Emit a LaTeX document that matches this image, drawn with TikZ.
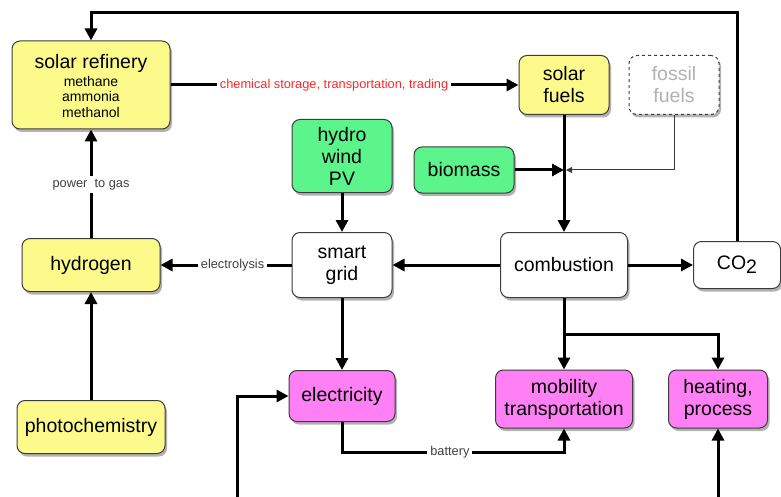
\documentclass[tikz,border=0pt]{standalone}
\usepackage{fontspec}
\setmainfont{Liberation Sans}
\usetikzlibrary{arrows.meta,shadows,calc}
\definecolor{yel}{RGB}{253,250,140}
\definecolor{grn}{RGB}{92,245,140}
\definecolor{mag}{RGB}{255,128,245}
\definecolor{bord}{RGB}{60,60,60}
\definecolor{redtxt}{RGB}{255,40,40}
\newcommand{\smallfnt}{\fontsize{14}{15.5}\selectfont}
\tikzset{
  box/.style={draw=bord, line width=1pt, rounded corners=8pt, align=center,
    font=\fontsize{19.5}{22}\selectfont, inner sep=0pt,
    drop shadow={shadow xshift=2pt, shadow yshift=-3pt, opacity=0.3, fill=black}},
  conn/.style={line width=3pt, -{Triangle[length=12pt,width=12pt]}},
  lab/.style={font=\fontsize{12.8}{14}\selectfont, fill=white, inner sep=3pt, text=black!75},
}
\begin{document}
\begin{tikzpicture}[x=1pt,y=-1pt]
\useasboundingbox (0,0) rectangle (781,497);
% nodes
\node[box, fill=yel, minimum width=158pt, minimum height=88pt] (ref) at (91,85)
  {\rule{0pt}{20pt}solar refinery\\[2pt]{\smallfnt\begin{tabular}{@{}c@{}}methane\\ammonia\\methanol\end{tabular}}};
\node[box, fill=yel, minimum width=138pt, minimum height=53pt] (hyd) at (91,265) {hydrogen};
\node[box, fill=yel, minimum width=148pt, minimum height=53pt] (pho) at (91,427) {photochemistry};
\node[box, fill=grn, minimum width=100pt, minimum height=73pt] (hwp) at (342,156) {hydro\\wind\\PV};
\node[box, fill=white, minimum width=100pt, minimum height=65pt] (sg) at (342,265) {smart\\grid};
\node[box, fill=mag, minimum width=106pt, minimum height=51pt] (el) at (342,396) {electricity};
\node[box, fill=yel, minimum width=90pt, minimum height=59pt] (sf) at (564,85) {solar\\fuels};
\node[box, fill=white, draw=bord, dashed, text=black!30, minimum width=90pt, minimum height=59pt] (ff) at (674,85) {fossil\\fuels};
\node[box, fill=grn, minimum width=100pt, minimum height=46pt] (bio) at (464,170) {biomass};
\node[box, fill=white, minimum width=127pt, minimum height=65pt] (comb) at (564,265) {combustion};
\node[box, fill=white, minimum width=87pt, minimum height=47pt] (co2) at (737,265) {CO\raisebox{-0.4ex}{2}};
\node[box, fill=mag, minimum width=137pt, minimum height=58pt] (mob) at (564,399) {mobility\\transportation};
\node[box, fill=mag, minimum width=99pt, minimum height=58pt] (heat) at (718,399) {heating,\\process};
\coordinate (jn) at (564,170);
\coordinate (top) at (91,13);
\coordinate (bl) at (237,500);
\coordinate (br) at (718,500);
% connectors
\draw[conn] (co2.north) |- (top) -- (ref.north);
\draw[conn] (ref.east) -- node[pos=0.47, lab, text=redtxt] {chemical storage, transportation, trading} (sf.west);
\draw[conn] (hyd.north) -- node[pos=0.49, lab] {power\ \ to gas} (ref.south);
\draw[conn] (pho.north) -- (hyd.south);
\draw[conn] (sg.west) -- node[pos=0.45, lab] {electrolysis} (hyd.east);
\draw[conn] (hwp.south) -- (sg.north);
\draw[conn] (sg.south) -- (el.north);
\draw[conn] (comb.west) -- (sg.east);
\draw[conn] (comb.east) -- (co2.west);
\draw[conn] (sf.south) -- (comb.north);
\draw[conn] (bio.east) -- (jn);
\draw[line width=1pt, -{Triangle[length=6pt,width=6pt]}, draw=bord] (ff.south) |- ($(jn)+(2,0)$);
\draw[conn] (comb.south) -- (mob.north);
\draw[conn] (comb.south) ++(0,36) -| (heat.north);
\draw[conn] (el.south) -- ++(0,30) -| node[pos=0.243, lab] {battery} (mob.south);
\draw[conn] (bl) |- (el.west);
\draw[conn] (br) -- (heat.south);
\end{tikzpicture}
\end{document}
